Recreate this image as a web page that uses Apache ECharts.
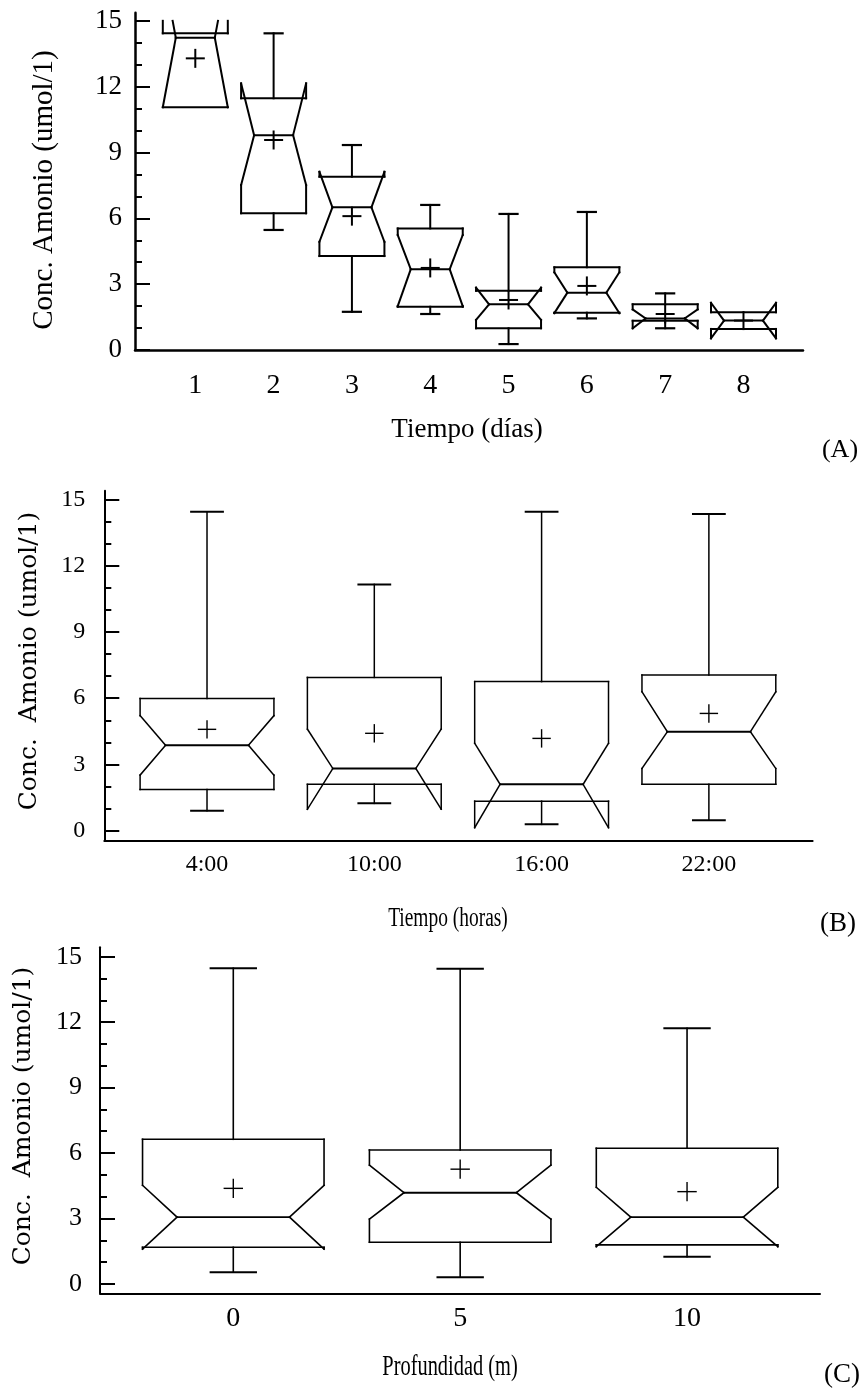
<!DOCTYPE html>
<html>
<head>
<meta charset="utf-8">
<title>Conc. Amonio</title>
<script src="https://cdn.jsdelivr.net/npm/echarts@6/dist/echarts.min.js"></script>
<style>
    html, body { margin: 0; padding: 0; background: #fff; }
    #main { width: 860px; height: 1389px; }
</style>
</head>
<body>
<div id="main"></div>
<script>
// (A) Tiempo (dias)
const diasLabels  = ['1', '2', '3', '4', '5', '6', '7', '8'];
const diasMin     = [11.06, 5.47, 1.74, 1.64, 0.27, 1.44, 0.99, 0.96];
const diasQ1      = [11.06, 6.23, 4.28, 1.97, 0.99, 1.70, 1.33, 0.96];
const diasNotchLo = [11.06, 7.52, 4.93, 2.00, 1.37, 1.68, 0.99, 0.53];
const diasMedian  = [14.23, 9.79, 6.50, 3.68, 2.08, 2.61, 1.44, 1.34];
const diasNotchHi = [17.40, 12.15, 8.12, 5.24, 2.84, 3.54, 1.85, 2.15];
const diasQ3      = [14.43, 11.47, 7.90, 5.54, 2.70, 3.77, 2.08, 1.72];
const diasMax     = [14.43, 14.43, 9.34, 6.61, 6.20, 6.29, 2.58, 1.72];
const diasMean    = [13.29, 9.57, 6.10, 3.74, 2.28, 2.92, 1.64, 1.34];

// (B) Tiempo (horas)
const horasLabels  = ['4:00', '10:00', '16:00', '22:00'];
const horasMin     = [0.91, 1.24, 0.29, 0.48];
const horasQ1      = [1.87, 2.10, 1.34, 2.10];
const horasNotchLo = [2.52, 0.97, 0.14, 2.82];
const horasMedian  = [3.87, 2.82, 2.10, 4.48];
const horasNotchHi = [5.21, 4.60, 3.96, 6.29];
const horasQ3      = [5.98, 6.94, 6.75, 7.05];
const horasMax     = [14.44, 11.15, 14.44, 14.34];
const horasMean    = [4.59, 4.41, 4.18, 5.31];

// (C) Profundidad (m)
const profLabels  = ['0', '5', '10'];
const profMin     = [0.54, 0.31, 1.25];
const profQ1      = [1.68, 1.91, 1.79];
const profNotchLo = [1.60, 2.97, 1.71];
const profMedian  = [3.06, 4.18, 3.06];
const profNotchHi = [4.52, 5.45, 4.43];
const profQ3      = [6.63, 6.14, 6.22];
const profMax     = [14.47, 14.45, 11.72];
const profMean    = [4.38, 5.26, 4.23];

const yMajor = [0, 3, 6, 9, 12, 15];
const yMinor = [1, 2, 4, 5, 7, 8, 10, 11, 13, 14];

const SERIF = "'Liberation Serif', 'Times New Roman', serif";
const WIDE_SERIF = "'DejaVu Serif', serif";

function rows(labels, mn, q1, nlo, med, nhi, q3, mx, mean) {
    return labels.map((l, i) => [i + 1, mn[i], q1[i], nlo[i], med[i], nhi[i], q3[i], mx[i], mean[i]]);
}

function clipSeg(p, q, yTop) {
    if (p[1] < yTop && q[1] < yTop) return null;
    if (p[1] < yTop) p = [p[0] + (q[0] - p[0]) * (yTop - p[1]) / (q[1] - p[1]), yTop];
    if (q[1] < yTop) q = [q[0] + (p[0] - q[0]) * (yTop - q[1]) / (p[1] - q[1]), yTop];
    return [p, q];
}

// notched box: outline follows q3 -> notch hi -> median -> notch lo -> q1
function notchBox(cfg) {
    return function (params, api) {
        const x = api.value(0);
        const mn = api.value(1), q1 = api.value(2), nlo = api.value(3), med = api.value(4);
        const nhi = api.value(5), q3 = api.value(6), mx = api.value(7), mean = api.value(8);
        const Y = v => api.coord([x, v])[1];
        const cx = api.coord([x, med])[0];
        const hw = api.size([cfg.boxW, 0])[0] / 2;
        const hi = hw * cfg.notch;
        const hc = api.size([cfg.capW, 0])[0] / 2;
        const L = cx - hw, R = cx + hw, Li = cx - hi, Ri = cx + hi;
        const pts = [[L, Y(q3)], [R, Y(q3)], [R, Y(nhi)], [Ri, Y(med)], [R, Y(nlo)], [R, Y(q1)],
                     [L, Y(q1)], [L, Y(nlo)], [Li, Y(med)], [L, Y(nhi)], [L, Y(q3)]];
        const segs = [];
        for (let i = 0; i < pts.length - 1; i++) segs.push([pts[i], pts[i + 1], cfg.lw]);
        segs.push([[Li, Y(med)], [Ri, Y(med)], cfg.medLw]);
        if (mx > q3) {
            segs.push([[cx, Y(q3)], [cx, Y(mx)], cfg.lw]);
            segs.push([[cx - hc, Y(mx)], [cx + hc, Y(mx)], cfg.capLw]);
        }
        if (mn < q1) {
            segs.push([[cx, Y(q1)], [cx, Y(mn)], cfg.lw]);
            segs.push([[cx - hc, Y(mn)], [cx + hc, Y(mn)], cfg.capLw]);
        }
        const ym = Y(mean), p = cfg.plus;
        segs.push([[cx - p, ym], [cx + p, ym], cfg.plusLw]);
        segs.push([[cx, ym - p], [cx, ym + p], cfg.plusLw]);

        const yTop = Y(15);
        const children = [];
        segs.forEach(s => {
            const c = clipSeg(s[0], s[1], yTop);
            if (!c) return;
            children.push({
                type: 'line',
                shape: { x1: c[0][0], y1: c[0][1], x2: c[1][0], y2: c[1][1] },
                style: { stroke: '#000', lineWidth: s[2], lineCap: 'square' }
            });
        });
        return { type: 'group', children: children };
    };
}

const panels = [
    {
        grid: { left: 135, right: 57, top: 12.7, bottom: 1039 },
        xMin: 0.23, xMax: 8.76, yMin: 0, yMax: 15.37,
        labels: diasLabels,
        data: rows(diasLabels, diasMin, diasQ1, diasNotchLo, diasMedian, diasNotchHi, diasQ3, diasMax, diasMean),
        box: { boxW: 0.83, notch: 0.6, capW: 0.23, lw: 2, medLw: 2, capLw: 2.2, plus: 8.5, plusLw: 2 },
        axisLw: 2.5, yFont: 27, yMargin: 13, xFont: 28, xMargin: 22
    },
    {
        grid: { left: 104.3, right: 47.4, top: 490.7, bottom: 548.3 },
        xMin: 0.386, xMax: 4.62, yMin: -0.45, yMax: 15.39,
        labels: horasLabels,
        data: rows(horasLabels, horasMin, horasQ1, horasNotchLo, horasMedian, horasNotchHi, horasQ3, horasMax, horasMean),
        box: { boxW: 0.80, notch: 0.62, capW: 0.19, lw: 1.5, medLw: 2, capLw: 2, plus: 8.5, plusLw: 1.4 },
        axisLw: 2, yFont: 24, yMargin: 19, xFont: 24, xMargin: 12
    },
    {
        grid: { left: 100, right: 40, top: 947.3, bottom: 95.7 },
        xMin: 0.4125, xMax: 3.586, yMin: -0.43, yMax: 15.43,
        labels: profLabels,
        data: rows(profLabels, profMin, profQ1, profNotchLo, profMedian, profNotchHi, profQ3, profMax, profMean),
        box: { boxW: 0.80, notch: 0.62, capW: 0.20, lw: 1.6, medLw: 1.8, capLw: 2, plus: 9, plusLw: 1.4 },
        axisLw: 2, yFont: 26, yMargin: 18, xFont: 28, xMargin: 11
    }
];

const grid = [], xAxis = [], yAxis = [], series = [];
panels.forEach((p, i) => {
    grid.push(p.grid);
    xAxis.push({
        gridIndex: i, type: 'value', min: p.xMin, max: p.xMax,
        axisLine: { show: true, onZero: false, lineStyle: { color: '#000', width: p.axisLw } },
        axisTick: { show: false },
        splitLine: { show: false },
        axisLabel: {
            customValues: p.labels.map((l, k) => k + 1),
            formatter: v => p.labels[Math.round(v) - 1],
            color: '#000', fontFamily: SERIF, fontSize: p.xFont, margin: p.xMargin
        }
    });
    yAxis.push({
        gridIndex: i, type: 'value', position: 'left', min: p.yMin, max: p.yMax,
        axisLine: { show: true, onZero: false, lineStyle: { color: '#000', width: p.axisLw } },
        axisTick: { show: true, inside: true, length: 15, customValues: yMajor, lineStyle: { color: '#000', width: 2 } },
        axisLabel: { customValues: yMajor, color: '#000', fontFamily: SERIF, fontSize: p.yFont, margin: p.yMargin },
        splitLine: { show: false }
    });
    yAxis.push({
        gridIndex: i, type: 'value', position: 'left', min: p.yMin, max: p.yMax,
        axisLine: { show: false },
        axisTick: { show: true, inside: true, length: 7, customValues: yMinor, lineStyle: { color: '#000', width: 2 } },
        axisLabel: { show: false },
        splitLine: { show: false }
    });
    series.push({
        type: 'custom', xAxisIndex: i, yAxisIndex: i * 2, clip: false,
        renderItem: notchBox(p.box),
        encode: { x: 0, y: [1, 2, 3, 4, 5, 6, 7, 8] },
        data: p.data
    });
});

function label(text, x, y, font, size, opts) {
    return Object.assign({
        type: 'text', x: x, y: y,
        style: { text: text, fontFamily: font, fontSize: size, fill: '#000', align: 'center', verticalAlign: 'middle' }
    }, opts || {});
}

const graphic = [
    label('Conc. Amonio (umol/1)', 44, 190, SERIF, 29, { rotation: Math.PI / 2 }),
    label('Tiempo (días)', 467, 430, SERIF, 27),
    label('(A)', 840, 450, SERIF, 26),
    label('Conc.  Amonio (umol/1)', 29, 661, WIDE_SERIF, 25, { rotation: Math.PI / 2 }),
    label('Tiempo (horas)', 448, 919, SERIF, 27, { scaleX: 0.72 }),
    label('(B)', 838, 924, SERIF, 27),
    label('Conc.  Amonio (umol/1)', 23, 1116, WIDE_SERIF, 25, { rotation: Math.PI / 2 }),
    label('Profundidad (m)', 450, 1367, SERIF, 30, { scaleX: 0.68 }),
    label('(C)', 842, 1375, SERIF, 27)
];

const myChart = echarts.init(document.getElementById('main'));
myChart.setOption({
    backgroundColor: '#fff',
    animation: false,
    grid: grid,
    xAxis: xAxis,
    yAxis: yAxis,
    series: series,
    graphic: graphic
});
</script>
</body>
</html>
